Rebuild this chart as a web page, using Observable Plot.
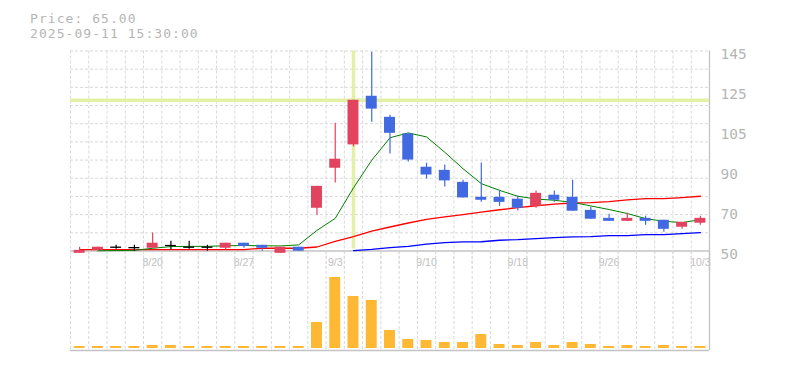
<!DOCTYPE html>
<html><head><meta charset="utf-8">
<script src="https://cdn.jsdelivr.net/npm/d3@7"></script>
<script src="https://cdn.jsdelivr.net/npm/@observablehq/plot@0.6"></script>
<style>
html,body{margin:0;padding:0;background:#fff;}
#chart{position:relative;width:785px;height:370px;overflow:hidden;}
.hdr{position:absolute;left:30px;font-family:"DejaVu Sans Mono",monospace;font-size:13px;letter-spacing:1.05px;color:#b5b5b5;white-space:pre;line-height:1;}
#price,#volume{position:absolute;left:0;}
</style></head>
<body><div id="chart">
<div id="price" style="top:0"></div>
<div id="volume" style="top:251px"></div>
<div class="hdr" id="h1" style="top:11.5px"></div>
<div class="hdr" id="h2" style="top:26.8px"></div>
</div>
<script>
const headerPrice = "Price: 65.00";
const headerTime = "2025-09-11 15:30:00";

const dates = ["8/14","8/15","8/18","8/19","8/20","8/21","8/22","8/25","8/26","8/27","8/28","8/29","9/1","9/2","9/3","9/4","9/5","9/8","9/9","9/10","9/11","9/12","9/16","9/17","9/18","9/19","9/22","9/24","9/25","9/26","9/29","9/30","10/1","10/2","10/3"];
const open  = [48.9,50.3,51.8,51.6,51.3,52.6,51.8,51.8,51.3,53.7,52.7,48.9,51.8,70.3,89.3,100.4,123.5,113.5,105.6,89.8,88.3,82.6,75.5,75.5,74.6,71.2,76.5,75.5,69.3,65.5,64.1,65.5,64.6,61.3,63.2];
const high  = [51.8,51.8,52.7,52.7,58.6,54.6,54.6,52.7,53.7,53.7,52.7,51.8,51.8,80.7,110.7,121.6,144.4,114.5,105.6,91.7,90.9,83.6,91.8,78.8,76.0,78.5,78.5,83.6,70.8,67.4,67.9,66.5,64.6,63.6,66.5];
const low   = [48.9,50.3,50.8,49.9,51.3,50.3,50.8,49.9,50.3,51.3,49.9,48.9,49.9,67.0,82.3,99.4,111.1,96.1,92.3,84.2,80.4,75.2,73.1,71.2,69.0,70.3,73.1,68.9,65.1,64.1,64.1,62.2,58.9,60.3,62.2];
const close = [50.3,51.8,51.8,51.6,53.7,52.6,51.8,51.8,53.7,52.2,51.3,51.8,49.9,80.7,93.6,121.6,117.4,105.9,93.2,86.1,83.3,75.2,74.1,73.1,70.3,77.4,74.1,68.9,65.1,64.1,65.5,64.1,60.3,63.6,65.5];
const volume = [2,2,2,2,3,3,2,2,2,2,2,2,2,26,71,52,48,18,9,8,6,6,14,4,3,6,3,6,4,2,3,2,3,2,2];
const maShort = [null,50.1,50.2,50.3,51.3,52.1,52.2,52.2,52.5,52.6,52.5,52.4,52.9,59.8,65.5,80.0,93.1,103.8,106.1,104.2,96.9,89.1,82.0,78.8,76.0,74.7,74.1,73.1,71.4,69.7,67.8,65.4,64.1,63.5,64.9];
const maMid = [50.7,50.7,50.7,50.7,50.7,50.7,50.7,50.7,50.7,50.7,51.3,51.3,51.3,51.9,54.6,56.8,59.4,61.4,63.3,65.0,66.2,67.3,68.5,69.6,70.6,71.5,72.3,72.8,73.0,73.5,74.3,74.9,74.9,75.4,76.0];
const maLong = [null,null,null,null,null,null,null,null,null,null,null,null,null,null,null,50.2,50.8,51.6,52.2,53.3,54.0,54.3,54.4,55.1,55.4,55.9,56.4,56.7,56.8,57.3,57.3,57.8,57.8,58.3,58.7];

const xTickLabels = ["8/20","8/27","9/3","9/10","9/18","9/26","10/3"];
const yTickValues = [50,69,88,107,126,145];
const yTickLabels = ["50","70","90","105","125","145"];
const crossDate = "9/4";
const crossPrice = 121.6;

document.getElementById("h1").textContent = headerPrice;
document.getElementById("h2").textContent = headerTime;

const n = dates.length;
const idx = d3.range(n);
const candles = idx.map(i => ({i, o: open[i], h: high[i], l: low[i], c: close[i]}));
const upColor = "#e2435f", downColor = "#4169e1", flatColor = "#000";
const colorOf = d => d.c > d.o ? upColor : d.c < d.o ? downColor : flatColor;
const xDomain = [-0.5, n - 0.5];
const yMin = 50, yMax = 145;
const gridColor = "#d9d9d9";
const axisColor = "#c3c3c3";
const crossColor = "#e3f1a6";
const yLabelColor = "#b5b5b5";
const xLabelColor = "#c0c0c0";
const hGrid = d3.range(12).map(k => yMin + k * (yMax - yMin) / 11);
const slotEdges = idx.map(k => k - 0.5);
const half = 0.3;

const price = Plot.plot({
  width: 785, height: 270,
  marginLeft: 70, marginRight: 76, marginTop: 50.5, marginBottom: 19.5,
  x: {domain: xDomain, axis: null},
  y: {domain: [yMin, yMax], axis: null},
  style: {background: "transparent", overflow: "visible"},
  marks: [
    Plot.ruleY(hGrid.slice(1), {stroke: gridColor, strokeDasharray: "3,2"}),
    Plot.ruleX(slotEdges, {stroke: gridColor, strokeDasharray: "3,2", insetBottom: -20}),
    Plot.ruleY([yMin], {stroke: axisColor, strokeWidth: 1.3}),
    Plot.ruleX([n - 0.5], {stroke: axisColor, strokeWidth: 1.3, insetBottom: -20}),
    Plot.ruleX([dates.indexOf(crossDate)], {stroke: crossColor, strokeWidth: 3.5, insetBottom: 2}),
    Plot.ruleY([crossPrice], {stroke: crossColor, strokeWidth: 3.5}),
    Plot.line(idx, {x: d => d, y: d => maLong[d], stroke: "#0000ff", strokeWidth: 1.3}),
    Plot.line(idx, {x: d => d, y: d => maMid[d], stroke: "#ff0000", strokeWidth: 1.3}),
    Plot.line(idx, {x: d => d, y: d => maShort[d], stroke: "#008000", strokeWidth: 1}),
    Plot.ruleX(candles, {x: "i", y1: "l", y2: "h", stroke: colorOf, strokeWidth: 1.2}),
    Plot.rect(candles.filter(d => d.o !== d.c), {x1: d => d.i - half, x2: d => d.i + half, y1: "o", y2: "c", fill: colorOf}),
    Plot.ruleY(candles.filter(d => d.o === d.c), {y: "o", x1: d => d.i - half, x2: d => d.i + half, stroke: flatColor, strokeWidth: 1.3}),
    Plot.text(yTickValues, {y: d => d, text: (d, i) => yTickLabels[i], frameAnchor: "right", textAnchor: "start", lineAnchor: "middle", dx: 11, dy: 3, fill: yLabelColor, fontFamily: "DejaVu Sans Mono", fontSize: 14.5}),
    Plot.text(xTickLabels, {x: d => dates.indexOf(d), text: d => d, frameAnchor: "bottom", lineAnchor: "middle", dy: 11.5, fill: xLabelColor, fontFamily: "Liberation Sans", fontSize: 10.5})
  ]
});
document.getElementById("price").appendChild(price);

const vol = Plot.plot({
  width: 785, height: 119,
  marginLeft: 70, marginRight: 76, marginTop: 19, marginBottom: 22,
  x: {domain: xDomain, axis: null},
  y: {domain: [0, 78], axis: null},
  style: {background: "transparent"},
  marks: [
    Plot.ruleX(slotEdges, {stroke: gridColor, strokeDasharray: "3,2", insetTop: -19, insetBottom: -2}),
    Plot.rect(idx, {x1: d => d - half, x2: d => d + half, y1: () => 0, y2: d => volume[d], fill: "#ffb833"}),
    Plot.ruleY([0], {stroke: axisColor, strokeWidth: 1.3, dy: 2}),
    Plot.ruleX([n - 0.5], {stroke: axisColor, strokeWidth: 1.3, insetTop: -19, insetBottom: -2})
  ]
});
document.getElementById("volume").appendChild(vol);
</script>
</body></html>
